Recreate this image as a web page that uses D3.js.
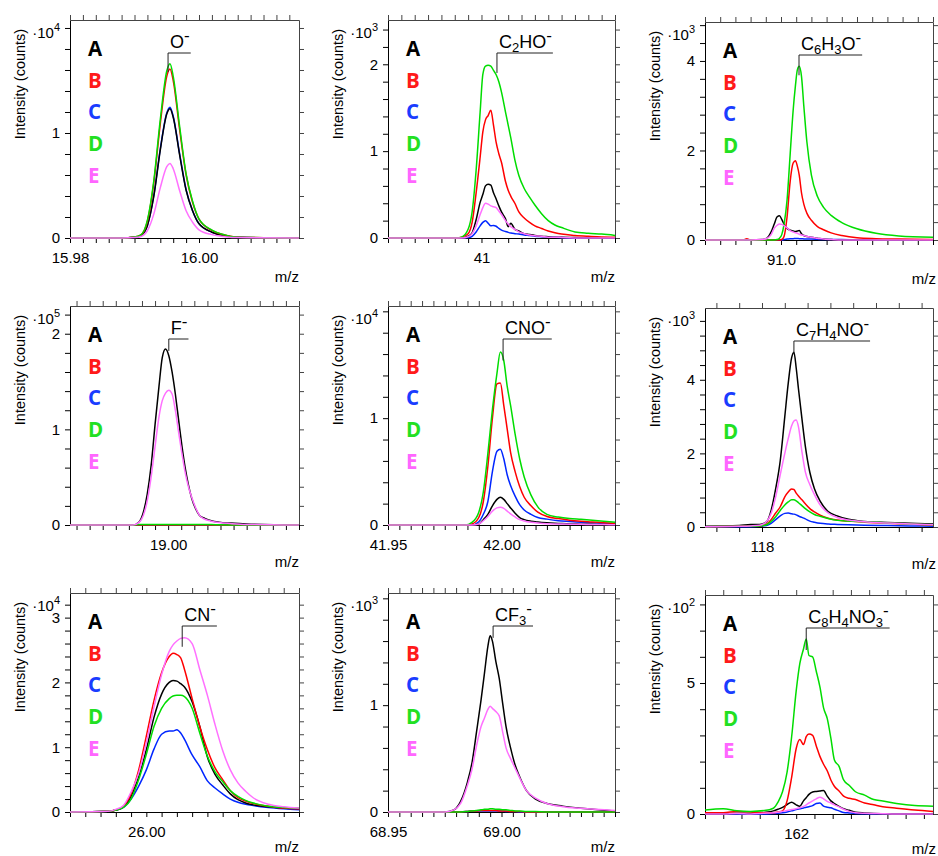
<!DOCTYPE html>
<html>
<head>
<meta charset="utf-8">
<script src="https://cdn.jsdelivr.net/npm/d3@7"></script>
<style>
  body { margin: 0; background: #fff; }
  svg { display: block; font-family: "Liberation Sans", Arial, sans-serif; }
</style>
</head>
<body>
<svg id="chart" width="938" height="856"></svg>
<script>
// samples A..E, one panel per ion (intensity in units of the axis multiplier)
const seriesNames = ["A", "B", "C", "D", "E"];

const mz_O = [15.980, 15.988, 15.990, 15.991, 15.992, 15.993, 15.994, 15.995, 15.9955, 15.996, 15.997, 15.998, 15.999, 16.000, 16.002, 16.004, 16.006, 16.0155];
const int_O = [
  [0, 0, 0.006, 0.024, 0.12, 0.40, 0.84, 1.18, 1.23, 1.15, 0.79, 0.455, 0.26, 0.135, 0.055, 0.022, 0.006, 0],
  [0, 0, 0.01, 0.03, 0.16, 0.53, 1.09, 1.54, 1.61, 1.50, 1.03, 0.60, 0.34, 0.18, 0.072, 0.029, 0.008, 0],
  [0, 0, 0.006, 0.025, 0.12, 0.41, 0.85, 1.19, 1.245, 1.16, 0.80, 0.46, 0.26, 0.137, 0.056, 0.022, 0.006, 0],
  [0, 0, 0.01, 0.03, 0.17, 0.55, 1.13, 1.59, 1.66, 1.54, 1.06, 0.61, 0.35, 0.18, 0.075, 0.03, 0.008, 0],
  [0, 0, 0.004, 0.014, 0.07, 0.23, 0.48, 0.68, 0.71, 0.66, 0.45, 0.26, 0.15, 0.078, 0.032, 0.013, 0.004, 0]
];

const mz_C2HO = [40.93, 40.98, 40.985, 40.99, 40.993, 40.996, 40.999, 41.001, 41.003, 41.005, 41.007, 41.009, 41.011, 41.013, 41.015, 41.018, 41.020, 41.022, 41.025, 41.028, 41.032, 41.036, 41.040, 41.045, 41.050, 41.055, 41.060, 41.070, 41.080, 41.090, 41.100];
const int_C2HO = [
  [0, 0, 0, 0.02, 0.06, 0.21, 0.41, 0.5, 0.6, 0.62, 0.61, 0.52, 0.45, 0.37, 0.3, 0.22, 0.13, 0.17, 0.1, 0.08, 0.05, 0.04, 0.03, 0.02, 0.015, 0.01, 0.01, 0.005, 0, 0, 0],
  [0, 0, 0.01, 0.05, 0.18, 0.52, 0.93, 1.22, 1.36, 1.41, 1.47, 1.3, 1.1, 0.97, 0.87, 0.65, 0.55, 0.48, 0.4, 0.3, 0.23, 0.18, 0.14, 0.11, 0.08, 0.06, 0.045, 0.03, 0.02, 0.012, 0.01],
  [0, 0, 0, 0.005, 0.02, 0.07, 0.14, 0.18, 0.2, 0.17, 0.14, 0.145, 0.135, 0.11, 0.09, 0.075, 0.065, 0.057, 0.05, 0.045, 0.035, 0.028, 0.02, 0.015, 0.01, 0.008, 0.005, 0, 0, 0, 0],
  [0, 0, 0.01, 0.1, 0.3, 0.78, 1.45, 1.88, 1.98, 1.99, 1.98, 1.93, 1.88, 1.8, 1.68, 1.45, 1.3, 1.15, 0.9, 0.72, 0.57, 0.47, 0.38, 0.28, 0.2, 0.15, 0.12, 0.07, 0.055, 0.045, 0.03],
  [0, 0, 0, 0.015, 0.05, 0.14, 0.27, 0.35, 0.4, 0.39, 0.37, 0.36, 0.35, 0.31, 0.27, 0.2, 0.16, 0.13, 0.1, 0.07, 0.05, 0.035, 0.025, 0.02, 0.01, 0.01, 0.005, 0, 0, 0, 0]
];

const mz_C6H3O = [90.90, 90.95, 90.955, 90.96, 90.975, 90.982, 90.987, 90.991, 90.995, 90.998, 91.001, 91.004, 91.008, 91.012, 91.016, 91.019, 91.0215, 91.024, 91.027, 91.030, 91.034, 91.040, 91.048, 91.056, 91.066, 91.080, 91.100, 91.125, 91.155, 91.20];
const int_C6H3O = [
  [0, 0, 0, 0, 0.01, 0.05, 0.18, 0.35, 0.52, 0.54, 0.46, 0.35, 0.26, 0.22, 0.2, 0.19, 0.2, 0.21, 0.14, 0.1, 0.08, 0.06, 0.04, 0.02, 0.01, 0, 0, 0, 0, 0],
  [0, 0, 0.03, 0, 0, 0, 0, 0, 0, 0, 0.01, 0.08, 0.52, 1.3, 1.72, 1.77, 1.65, 1.45, 1.05, 0.8, 0.6, 0.44, 0.3, 0.23, 0.16, 0.1, 0.05, 0.03, 0.02, 0.01],
  [0, 0, 0, 0, 0, 0, 0, 0, 0, 0, 0, 0.01, 0.02, 0.03, 0.03, 0.035, 0.035, 0.03, 0.03, 0.025, 0.02, 0.02, 0.015, 0.01, 0.01, 0.01, 0, 0, 0, 0],
  [0, 0, 0, 0, 0, 0, 0, 0, 0.01, 0.04, 0.12, 0.35, 0.9, 1.9, 2.9, 3.45, 3.8, 3.88, 3.65, 3.0, 2.2, 1.45, 0.97, 0.73, 0.55, 0.39, 0.25, 0.15, 0.09, 0.06],
  [0, 0, 0, 0, 0.01, 0.04, 0.12, 0.26, 0.33, 0.36, 0.35, 0.32, 0.27, 0.21, 0.18, 0.16, 0.15, 0.13, 0.11, 0.1, 0.08, 0.06, 0.04, 0.02, 0.01, 0, 0, 0, 0, 0]
];

const mz_F = [18.985, 18.993, 18.9946, 18.9956, 18.9962, 18.9968, 18.9974, 18.998, 18.9986, 18.9991, 18.9996, 19.0001, 19.0006, 19.0011, 19.0016, 19.0021, 19.0026, 19.0031, 19.0036, 19.0042, 19.0048, 19.0056, 19.0066, 19.0078, 19.0095, 19.012, 19.020];
const int_F = [
  [0, 0, 0, 0.035, 0.13, 0.32, 0.62, 1.05, 1.45, 1.75, 1.84, 1.77, 1.6, 1.37, 1.1, 0.83, 0.6, 0.42, 0.28, 0.17, 0.1, 0.07, 0.045, 0.03, 0.02, 0.01, 0],
  [0, 0, 0, 0, 0, 0, 0, 0, 0, 0, 0, 0, 0, 0, 0, 0, 0, 0, 0, 0, 0, 0, 0, 0, 0, 0, 0],
  [0, 0, 0, 0, 0, 0, 0, 0, 0, 0, 0, 0, 0, 0, 0, 0, 0, 0, 0, 0, 0, 0, 0, 0, 0, 0, 0],
  [0, 0, 0, 0.004, 0.005, 0.005, 0.005, 0.005, 0.005, 0.005, 0.005, 0.005, 0.005, 0.005, 0.005, 0.005, 0.005, 0.005, 0.005, 0.005, 0.005, 0.005, 0.004, 0.002, 0, 0, 0],
  [0, 0, 0, 0.03, 0.1, 0.25, 0.5, 0.82, 1.13, 1.3, 1.38, 1.41, 1.37, 1.2, 0.97, 0.75, 0.55, 0.4, 0.29, 0.18, 0.1, 0.06, 0.04, 0.025, 0.015, 0.005, 0]
];

const mz_CNO = [41.95, 41.984, 41.987, 41.990, 41.992, 41.994, 41.996, 41.998, 41.9995, 42.001, 42.0025, 42.004, 42.006, 42.008, 42.010, 42.013, 42.016, 42.020, 42.025, 42.030, 42.035, 42.040, 42.045, 42.050];
const int_CNO = [
  [0, 0, 0, 0.01, 0.05, 0.1, 0.18, 0.24, 0.26, 0.24, 0.2, 0.16, 0.11, 0.07, 0.05, 0.035, 0.027, 0.02, 0.015, 0.01, 0.008, 0.006, 0.005, 0.005],
  [0, 0, 0.01, 0.07, 0.22, 0.55, 1.0, 1.32, 1.33, 1.12, 0.9, 0.68, 0.5, 0.36, 0.26, 0.18, 0.12, 0.08, 0.06, 0.045, 0.035, 0.028, 0.022, 0.015],
  [0, 0, 0, 0.03, 0.1, 0.22, 0.5, 0.69, 0.71, 0.62, 0.47, 0.37, 0.27, 0.19, 0.14, 0.1, 0.07, 0.055, 0.04, 0.032, 0.025, 0.02, 0.015, 0.012],
  [0, 0, 0.025, 0.12, 0.31, 0.67, 1.08, 1.42, 1.62, 1.54, 1.3, 1.12, 0.85, 0.62, 0.45, 0.28, 0.17, 0.1, 0.074, 0.06, 0.053, 0.045, 0.036, 0.026],
  [0, 0, 0, 0.01, 0.04, 0.08, 0.13, 0.16, 0.165, 0.155, 0.13, 0.105, 0.075, 0.05, 0.037, 0.025, 0.018, 0.012, 0.01, 0.008, 0.006, 0.005, 0.004, 0.003]
];

const mz_C7H4NO = [117.95, 117.98, 117.99, 117.998, 118.004, 118.008, 118.012, 118.016, 118.020, 118.023, 118.026, 118.028, 118.030, 118.032, 118.035, 118.038, 118.042, 118.046, 118.051, 118.058, 118.066, 118.076, 118.09, 118.11, 118.13, 118.15];
const int_C7H4NO = [
  [0.02, 0.04, 0.07, 0.07, 0.14, 0.45, 1.04, 1.8, 3.0, 3.9, 4.6, 4.75, 4.32, 3.75, 2.95, 2.2, 1.48, 1.04, 0.7, 0.42, 0.3, 0.21, 0.15, 0.12, 0.1, 0.08],
  [0.01, 0.02, 0.03, 0.03, 0.08, 0.2, 0.38, 0.55, 0.82, 0.95, 1.03, 1.02, 0.92, 0.84, 0.74, 0.63, 0.5, 0.41, 0.32, 0.24, 0.19, 0.16, 0.13, 0.1, 0.08, 0.05],
  [0.01, 0.01, 0.01, 0.02, 0.04, 0.1, 0.2, 0.3, 0.37, 0.38, 0.36, 0.35, 0.33, 0.3, 0.26, 0.22, 0.16, 0.13, 0.1, 0.08, 0.07, 0.06, 0.05, 0.04, 0.03, 0.02],
  [0.01, 0.02, 0.02, 0.03, 0.06, 0.15, 0.28, 0.45, 0.6, 0.68, 0.74, 0.74, 0.71, 0.66, 0.58, 0.5, 0.41, 0.34, 0.29, 0.23, 0.18, 0.16, 0.14, 0.11, 0.08, 0.06],
  [0.01, 0.02, 0.03, 0.05, 0.15, 0.37, 0.82, 1.42, 2.0, 2.4, 2.75, 2.88, 2.91, 2.72, 2.05, 1.5, 1.15, 0.88, 0.6, 0.38, 0.26, 0.19, 0.14, 0.11, 0.08, 0.06]
];

const mz_CN = [25.99, 25.995, 25.996, 25.997, 25.998, 25.999, 26.000, 26.001, 26.002, 26.003, 26.0035, 26.004, 26.0045, 26.005, 26.006, 26.007, 26.008, 26.009, 26.010, 26.011, 26.012, 26.013, 26.014, 26.016, 26.018, 26.020];
const int_CN = [
  [0, 0.01, 0.03, 0.08, 0.24, 0.55, 0.96, 1.46, 1.82, 2.0, 2.03, 2.02, 1.98, 1.93, 1.7, 1.32, 0.85, 0.58, 0.42, 0.28, 0.19, 0.14, 0.11, 0.08, 0.06, 0.05],
  [0, 0.01, 0.03, 0.09, 0.28, 0.65, 1.17, 1.72, 2.15, 2.4, 2.45, 2.43, 2.38, 2.2, 1.75, 1.32, 0.96, 0.68, 0.5, 0.33, 0.22, 0.17, 0.13, 0.09, 0.06, 0.05],
  [0, 0.01, 0.03, 0.07, 0.2, 0.4, 0.65, 0.97, 1.2, 1.25, 1.25, 1.27, 1.22, 1.12, 0.88, 0.7, 0.48, 0.37, 0.28, 0.2, 0.15, 0.12, 0.1, 0.07, 0.05, 0.035],
  [0, 0.01, 0.03, 0.07, 0.2, 0.5, 0.89, 1.32, 1.6, 1.75, 1.79, 1.8, 1.8, 1.78, 1.6, 1.22, 0.86, 0.62, 0.47, 0.33, 0.24, 0.18, 0.14, 0.09, 0.07, 0.06],
  [0, 0.01, 0.04, 0.1, 0.31, 0.6, 1.07, 1.62, 2.12, 2.48, 2.58, 2.64, 2.68, 2.69, 2.6, 2.2, 1.8, 1.35, 0.95, 0.65, 0.45, 0.32, 0.22, 0.12, 0.08, 0.06]
];

const mz_CF3 = [68.95, 68.975, 68.979, 68.982, 68.985, 68.987, 68.989, 68.991, 68.9925, 68.994, 68.995, 68.996, 68.9975, 68.999, 69.0005, 69.002, 69.004, 69.006, 69.008, 69.011, 69.015, 69.020, 69.027, 69.035, 69.050];
const int_CF3 = [
  [0, 0, 0.02, 0.1, 0.28, 0.46, 0.75, 1.05, 1.3, 1.55, 1.65, 1.6, 1.41, 1.25, 1.02, 0.8, 0.6, 0.44, 0.33, 0.2, 0.12, 0.08, 0.055, 0.035, 0.01],
  [0, 0, 0, 0, 0.005, 0.01, 0.01, 0.015, 0.015, 0.015, 0.015, 0.015, 0.015, 0.01, 0.01, 0.01, 0.005, 0.005, 0.005, 0, 0, 0, 0, 0, 0],
  [0, 0, 0, 0, 0.005, 0.01, 0.01, 0.01, 0.01, 0.01, 0.01, 0.01, 0.01, 0.01, 0.01, 0.005, 0.005, 0.005, 0, 0, 0, 0, 0, 0, 0],
  [0, 0, 0, 0, 0.005, 0.01, 0.015, 0.02, 0.025, 0.025, 0.03, 0.03, 0.025, 0.025, 0.02, 0.02, 0.015, 0.01, 0.01, 0.005, 0.005, 0, 0, 0, 0],
  [0, 0, 0.02, 0.08, 0.25, 0.4, 0.62, 0.8, 0.88, 0.96, 0.99, 0.97, 0.94, 0.9, 0.75, 0.6, 0.5, 0.41, 0.32, 0.2, 0.13, 0.08, 0.05, 0.035, 0.015]
];

const mz_C8H4NO3 = [161.90, 161.92, 161.935, 161.95, 161.965, 161.975, 161.98, 161.985, 161.99, 161.995, 162.0, 162.004, 162.008, 162.011, 162.014, 162.018, 162.022, 162.026, 162.03, 162.034, 162.038, 162.042, 162.047, 162.052, 162.058, 162.065, 162.075, 162.085, 162.095, 162.11, 162.13, 162.15];
const int_C8H4NO3 = [
  [0, 0, 0.03, 0.02, 0.06, 0.12, 0.18, 0.25, 0.36, 0.45, 0.35, 0.3, 0.5, 0.62, 0.75, 0.84, 0.86, 0.88, 0.9, 0.68, 0.5, 0.4, 0.29, 0.2, 0.14, 0.07, 0.04, 0.02, 0.01, 0, 0, 0],
  [0.05, 0.05, 0.1, 0.08, 0.05, 0.05, 0.08, 0.12, 0.5, 1.4, 2.5, 2.84, 2.65, 2.95, 3.05, 3.0, 2.6, 2.2, 1.9, 1.65, 1.3, 1.05, 0.88, 0.68, 0.6, 0.55, 0.42, 0.35, 0.28, 0.22, 0.15, 0.1],
  [0, 0, 0, 0, 0, 0.02, 0.03, 0.05, 0.08, 0.12, 0.17, 0.2, 0.23, 0.26, 0.28, 0.32, 0.4, 0.42, 0.3, 0.26, 0.24, 0.18, 0.12, 0.06, 0.04, 0.02, 0.01, 0, 0, 0, 0, 0],
  [0.15, 0.2, 0.12, 0.1, 0.13, 0.22, 0.45, 0.85, 1.6, 2.95, 4.7, 5.75, 6.3, 6.68, 6.05, 6.0, 5.45, 4.85, 4.05, 3.65, 2.9, 2.05, 1.82, 1.3, 1.1, 0.85, 0.72, 0.55, 0.5, 0.4, 0.32, 0.3],
  [0, 0, 0.02, 0, 0.03, 0.05, 0.07, 0.1, 0.13, 0.17, 0.2, 0.24, 0.29, 0.35, 0.42, 0.5, 0.58, 0.64, 0.58, 0.48, 0.42, 0.35, 0.27, 0.18, 0.1, 0.05, 0.03, 0.02, 0.01, 0, 0, 0]
];

// panel order: row by row
const ionLabels = ["O^-", "C_2HO^-", "C_6H_3O^-", "F^-", "CNO^-", "C_7H_4NO^-", "CN^-", "CF_3^-", "C_8H_4NO_3^-"];
const mzGrids = [mz_O, mz_C2HO, mz_C6H3O, mz_F, mz_CNO, mz_C7H4NO, mz_CN, mz_CF3, mz_C8H4NO3];
const intensities = [int_O, int_C2HO, int_C6H3O, int_F, int_CNO, int_C7H4NO, int_CN, int_CF3, int_C8H4NO3];
const exponents = [4, 3, 3, 5, 4, 3, 4, 3, 2];
const xDomains = [[15.98, 16.0155], [40.93, 41.10], [90.90, 91.20], [18.985, 19.020], [41.95, 42.05], [117.95, 118.15], [25.99, 26.02], [68.95, 69.05], [161.90, 162.15]];
const xTickSteps = [0.002, 0.01, 0.02, 0.002, 0.005, 0.02, 0.002, 0.005, 0.02];
const xTickLabels = [["15.98", "16.00"], ["41"], ["91.0"], ["19.00"], ["41.95", "42.00"], ["118"], ["26.00"], ["68.95", "69.00"], ["162"]];
const yMaxima = [2.076, 2.51, 4.87, 2.29, 2.05, 5.95, 3.38, 2.05, 8.36];
const yTickSteps = [0.2, 0.2, 0.4, 0.2, 0.2, 0.4, 0.2, 0.2, 1];
const yTickLabels = [[0, 1], [0, 1, 2], [0, 2, 4], [0, 1, 2], [0, 1], [0, 2, 4], [0, 1, 2, 3], [0, 1], [0, 5]];
const labelTips = [[15.9952, 1.58], [41.0116, 1.90], [91.0237, 3.68], [19.0001, 1.82], [42.0007, 1.54], [118.028, 4.73], [26.0047, 2.55], [68.9963, 1.63], [162.011, 6.26]];

const lineColors = ["#000000", "#ff0000", "#0026ff", "#00dd00", "#ff70ff"];
const legendColors = ["#000000", "#ff1a1a", "#1a3cff", "#22e022", "#ff66ff"];
const drawOrder = [2, 0, 1, 3, 4];

const colLeft = [70, 388, 705], colRight = [299, 615, 933];
const rowTop = [20, 306, 593], rowBottom = [238, 525, 812];
const mzLabelGap = [44, 42, 40];

const svg = d3.select('#chart');

function stepTicks(domain, step) {
  const i0 = Math.ceil(domain[0] / step - 1e-6);
  const i1 = Math.floor(domain[1] / step + 1e-6);
  return d3.range(i0, i1 + 1).map(i => +(i * step).toFixed(6));
}

function writeFormula(text, str) {
  // "_2" -> subscript digit, "^-" -> superscript minus
  let shift = 0;
  for (let i = 0; i < str.length; i++) {
    let ch = str[i], size = 18, target = 0;
    if (ch === '_') { ch = str[++i]; size = 13; target = 4; }
    else if (ch === '^') { ch = str[++i]; size = 17; target = -7; }
    text.append('tspan').attr('font-size', size).attr('dy', target - shift).text(ch);
    shift = target;
  }
}

mzGrids.forEach((mz, p) => {
  const col = p % 3, row = Math.floor(p / 3);
  const off = col === 2 ? 2 : 0;
  const left = colLeft[col], right = colRight[col];
  const top = rowTop[row] + off, bottom = rowBottom[row] + off;

  const x = d3.scaleLinear().domain(xDomains[p]).range([left, right]);
  const y = d3.scaleLinear().domain([0, yMaxima[p]]).range([bottom, top]);
  const g = svg.append('g');

  const xt = stepTicks(xDomains[p], xTickSteps[p]);
  const yt = stepTicks([0, yMaxima[p]], yTickSteps[p]);
  const xFmt = d => xTickLabels[p].find(s => Math.abs(+s - d) < xTickSteps[p] / 10) || '';
  const yFmt = d => { const v = yTickLabels[p].find(s => Math.abs(s - d) < yTickSteps[p] / 10); return v === undefined ? '' : String(v); };

  // frame: top and right in grey, left and bottom in black
  g.append('g').attr('transform', `translate(0,${top})`)
    .call(d3.axisTop(x).tickValues(xt).tickSize(5).tickSizeOuter(0).tickFormat(''))
    .attr('color', '#444');
  g.append('g').attr('transform', `translate(${right},0)`)
    .call(d3.axisRight(y).tickValues(yt).tickSize(5).tickSizeOuter(0).tickFormat(''))
    .attr('color', '#444');
  g.append('g').attr('transform', `translate(0,${bottom})`)
    .call(d3.axisBottom(x).tickValues(xt).tickSize(5).tickSizeOuter(0).tickPadding(9).tickFormat(xFmt))
    .attr('font-size', 15).attr('font-family', '"Liberation Sans", Arial, sans-serif').attr('color', '#000');
  g.append('g').attr('transform', `translate(${left},0)`)
    .call(d3.axisLeft(y).tickValues(yt).tickSize(5).tickSizeOuter(0).tickPadding(5).tickFormat(yFmt))
    .attr('font-size', 15).attr('font-family', '"Liberation Sans", Arial, sans-serif').attr('color', '#000');

  // spectra
  const line = d3.line().x(d => x(d[0])).y(d => y(d[1])).curve(d3.curveMonotoneX);
  drawOrder.forEach(s => {
    g.append('path')
      .datum(mz.map((m, i) => [m, intensities[p][s][i]]))
      .attr('fill', 'none')
      .attr('stroke', lineColors[s])
      .attr('stroke-width', 1.5)
      .attr('stroke-linejoin', 'round')
      .attr('d', line);
  });

  // multiplier
  const mult = g.append('text').attr('x', left - 10).attr('y', top + 18)
    .attr('text-anchor', 'end').attr('font-size', 15);
  mult.append('tspan').text('·10');
  mult.append('tspan').attr('font-size', 11).attr('dy', -7).text(exponents[p]);

  // axis titles
  g.append('text').attr('transform', `translate(${left - 45},${top + 64}) rotate(-90)`)
    .attr('text-anchor', 'middle').attr('font-size', 14.5).text('Intensity (counts)');
  g.append('text').attr('x', right + (col === 2 ? 3 : 0)).attr('y', bottom + mzLabelGap[row])
    .attr('text-anchor', 'end').attr('font-size', 15).text('m/z');

  // legend letters
  seriesNames.forEach((name, k) => {
    g.append('text').attr('x', left + 18).attr('y', top + 36 + k * 31.7)
      .attr('font-family', '"Open Sans", sans-serif').attr('font-weight', 700)
      .attr('font-size', 20.5).attr('fill', legendColors[k]).text(name);
  });

  // ion label with bracket to the peak
  const tx = x(labelTips[p][0]);
  const label = g.append('text').attr('x', tx + 2).attr('y', top + 28);
  writeFormula(label, ionLabels[p]);
  const w = label.node().getComputedTextLength();
  g.append('path')
    .attr('d', `M${tx},${y(labelTips[p][1])}V${top + 33}H${tx + 2 + w + 1}`)
    .attr('fill', 'none').attr('stroke', '#222').attr('stroke-width', 1);
});
</script>
</body>
</html>
